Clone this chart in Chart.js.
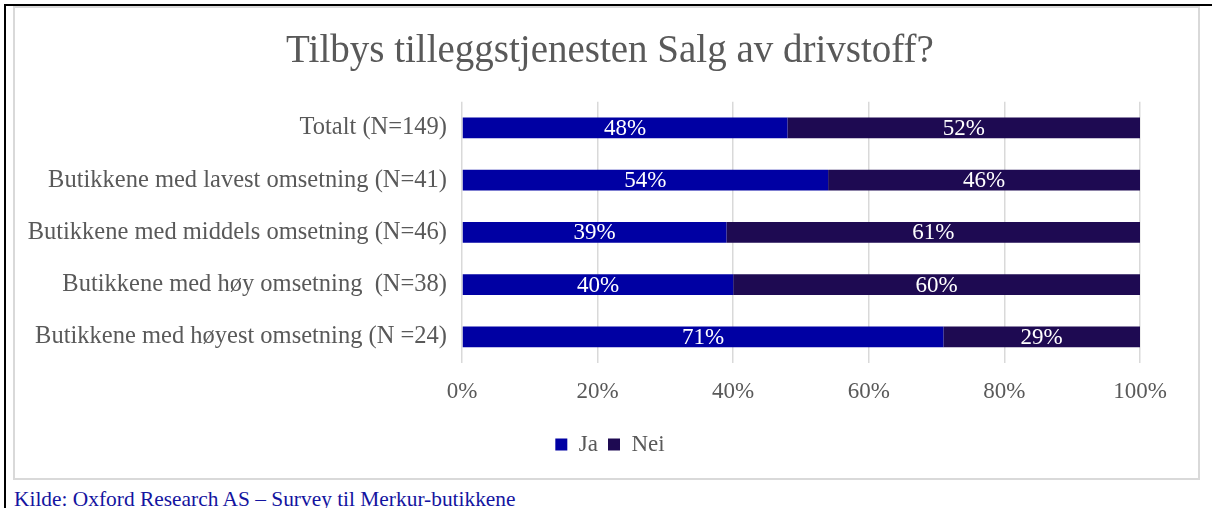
<!DOCTYPE html>
<html lang="no">
<head>
<meta charset="utf-8">
<title>Tilbys tilleggstjenesten Salg av drivstoff?</title>
<script src="https://cdn.jsdelivr.net/npm/chart.js@4.4.1/dist/chart.umd.min.js"></script>
<style>
    html, body {
        margin: 0;
        padding: 0;
        background: #ffffff;
        width: 1212px;
        height: 508px;
        overflow: hidden;
        font-family: "Liberation Serif", "Times New Roman", serif;
    }
    .frame {
        position: absolute;
        left: 4px;
        top: 4px;
        width: 1220px;
        height: 520px;
        border-top: 2px solid #000000;
        border-left: 2px solid #000000;
    }
    .chart-box {
        position: absolute;
        left: 13px;
        top: 6px;
        width: 1183px;
        height: 470px;
        border: 2px solid #d9d9d9;
    }
    .caption {
        position: absolute;
        left: 14px;
        top: 487px;
        font-size: 21.4px;
        line-height: 24px;
        color: #1414a0;
        white-space: nowrap;
    }
</style>
</head>
<body>
<div class="frame"></div>
<div class="chart-box"><canvas id="drivstoff-chart" width="1183" height="470"></canvas></div>
<div class="caption">Kilde: Oxford Research AS – Survey til Merkur-butikkene</div>

<script>
    // Data
    var categories = [
        "Totalt (N=149)",
        "Butikkene med lavest omsetning (N=41)",
        "Butikkene med middels omsetning (N=46)",
        "Butikkene med høy omsetning  (N=38)",
        "Butikkene med høyest omsetning (N =24)"
    ];
    var jaValues = [48, 54, 39, 40, 71];
    var neiValues = [52, 46, 61, 60, 29];
    var xTicks = [0, 20, 40, 60, 80, 100];

    var serif = "'Liberation Serif', 'Times New Roman', serif";
    var grey = "#595959";

    // Percent labels inside the bars
    var barLabels = {
        id: "barLabels",
        afterDatasetsDraw: function (chart) {
            var ctx = chart.ctx;
            ctx.save();
            ctx.font = "23px " + serif;
            ctx.fillStyle = "#ffffff";
            ctx.textAlign = "center";
            ctx.textBaseline = "middle";
            chart.data.datasets.forEach(function (ds, i) {
                chart.getDatasetMeta(i).data.forEach(function (bar, j) {
                    var p = bar.getCenterPoint();
                    ctx.fillText(ds.data[j] + "%", p.x, p.y + 1);
                });
            });
            ctx.restore();
        }
    };

    var ctx = document.getElementById("drivstoff-chart").getContext("2d");
    var myChart = new Chart(ctx, {
        type: "bar",
        data: {
            labels: categories,
            datasets: [{
                    label: "Ja",
                    data: jaValues,
                    backgroundColor: "#0000a3"
                },
                {
                    label: "Nei",
                    data: neiValues,
                    backgroundColor: "#1e0a52"
                }
            ]
        },
        plugins: [barLabels],
        options: {
            indexAxis: "y",
            responsive: false,
            animation: false,
            layout: {
                padding: {left: 7, right: 0, top: 0, bottom: 12}
            },
            datasets: {
                bar: {
                    categoryPercentage: 0.4,
                    barPercentage: 1.0
                }
            },
            scales: {
                x: {
                    stacked: true,
                    min: 0,
                    max: 100,
                    afterBuildTicks: function (scale) {
                        scale.ticks = xTicks.map(function (v) { return {value: v}; });
                    },
                    afterFit: function (scale) {
                        scale.height = 60;
                        scale.paddingRight = 58;
                    },
                    grid: {
                        color: "#d9d9d9",
                        lineWidth: 1.5,
                        drawTicks: false
                    },
                    border: {display: false},
                    ticks: {
                        padding: 15,
                        color: grey,
                        font: {family: serif, size: 23},
                        callback: function (v) { return v + "%"; }
                    }
                },
                y: {
                    stacked: true,
                    afterFit: function (scale) {
                        scale.width = 440;
                    },
                    grid: {display: false, drawTicks: false},
                    border: {display: false},
                    ticks: {
                        padding: 15,
                        color: grey,
                        font: {family: serif, size: 24.5}
                    }
                }
            },
            plugins: {
                title: {
                    display: true,
                    text: "Tilbys tilleggstjenesten Salg av drivstoff?",
                    color: grey,
                    font: {family: serif, size: 39, weight: "normal"},
                    padding: {top: 20, bottom: 27}
                },
                legend: {
                    position: "bottom",
                    labels: {
                        boxWidth: 12,
                        boxHeight: 12,
                        color: grey,
                        font: {family: serif, size: 23}
                    }
                },
                tooltip: {enabled: false}
            }
        }
    });
</script>
</body>
</html>
